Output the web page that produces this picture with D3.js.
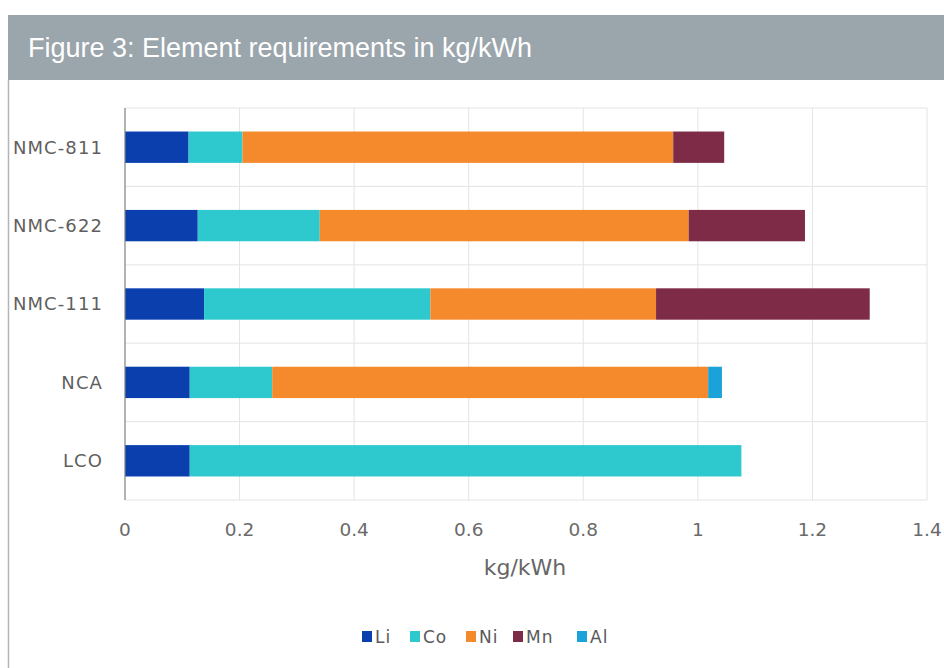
<!DOCTYPE html>
<html>
<head>
<meta charset="utf-8">
<script src="https://cdn.jsdelivr.net/npm/d3@7"></script>
<style>
  html, body { margin: 0; padding: 0; background: #fff; }
  svg { display: block; }
</style>
</head>
<body>
<svg id="chart" width="944" height="668"></svg>
<script>
const title = "Figure 3: Element requirements in kg/kWh";
const categories = ["NMC-811", "NMC-622", "NMC-111", "NCA", "LCO"];
const elements = ["Li", "Co", "Ni", "Mn", "Al"];
const Li = [0.111, 0.127, 0.138, 0.113, 0.113];
const Co = [0.094, 0.213, 0.395, 0.144, 0.963];
const Ni = [0.752, 0.644, 0.394, 0.761, 0];
const Mn = [0.089, 0.203, 0.373, 0, 0];
const Al = [0, 0, 0, 0.024, 0];
const xTicks = [0, 0.2, 0.4, 0.6, 0.8, 1, 1.2, 1.4];
const xTitle = "kg/kWh";
const colors = ["#0b3fae", "#2ec8cf", "#f48a2c", "#7e2b47", "#1ba2d9"];

const seriesValues = { Li, Co, Ni, Mn, Al };
const rows = categories.map((c, i) => {
  const r = { cat: c };
  elements.forEach(e => r[e] = seriesValues[e][i]);
  return r;
});

const svg = d3.select("#chart");
const font = "'DejaVu Sans', sans-serif";

// title bar
svg.append("rect").attr("x", 8).attr("y", 15).attr("width", 936).attr("height", 65).attr("fill", "#9ba5ac");
svg.append("line").attr("x1", 8.5).attr("x2", 8.5).attr("y1", 80).attr("y2", 668).attr("stroke", "#b5b5b5").attr("stroke-width", 1.5);
svg.append("text").attr("x", 28).attr("y", 57).attr("fill", "#ffffff")
  .attr("font-family", "'Liberation Sans', sans-serif").attr("font-size", 27)
  .attr("textLength", 504).attr("lengthAdjust", "spacingAndGlyphs")
  .text(title);

const x0 = 125, x1 = 927, yTop = 108, yBot = 500;
const x = d3.scaleLinear().domain([0, 1.4]).range([x0, x1]);
const y = d3.scaleBand().domain(categories).range([yTop, yBot]).paddingInner(0.6).paddingOuter(0.3);

// gridlines
const g = svg.append("g");
g.selectAll(".vg").data(xTicks.slice(1)).join("line")
  .attr("x1", d => x(d)).attr("x2", d => x(d)).attr("y1", yTop).attr("y2", yBot)
  .attr("stroke", "#e4e4e4").attr("stroke-width", 1);
const step = y.step();
const hLines = d3.range(categories.length + 1).map(i => yTop + i * step);
g.selectAll(".hg").data(hLines).join("line")
  .attr("x1", x0).attr("x2", x1).attr("y1", d => d).attr("y2", d => d)
  .attr("stroke", "#e4e4e4").attr("stroke-width", 1);

// bars
const stack = d3.stack().keys(elements)(rows);
svg.append("g").selectAll("g").data(stack).join("g")
  .attr("fill", (d, i) => colors[i])
  .selectAll("rect").data(d => d).join("rect")
  .attr("x", d => x(d[0])).attr("width", d => Math.max(0, x(d[1]) - x(d[0])))
  .attr("y", d => y(d.data.cat)).attr("height", y.bandwidth());

// y axis line
svg.append("line").attr("x1", x0).attr("x2", x0).attr("y1", yTop).attr("y2", yBot)
  .attr("stroke", "#7f7f7f").attr("stroke-width", 1.2);

// category labels
svg.append("g").selectAll("text").data(categories).join("text")
  .attr("x", 103).attr("y", d => y(d) + y.bandwidth() / 2)
  .attr("dy", "0.36em").attr("text-anchor", "end")
  .attr("font-family", font).attr("font-size", 18).attr("letter-spacing", 1.1)
  .attr("fill", "#5f5f5f").text(d => d);

// x tick labels
svg.append("g").selectAll("text").data(xTicks).join("text")
  .attr("x", d => x(d)).attr("y", 529).attr("dy", "0.36em").attr("text-anchor", "middle")
  .attr("font-family", font).attr("font-size", 18.5)
  .attr("fill", "#6a6a6a").text(d => d3.format("~g")(d));

// x title
svg.append("text").attr("x", 525).attr("y", 567).attr("dy", "0.36em").attr("text-anchor", "middle")
  .attr("font-family", font).attr("font-size", 22).attr("fill", "#666666").text(xTitle);

// legend
const legendX = [362, 410, 466, 513, 577];
const lg = svg.append("g").selectAll("g").data(elements).join("g")
  .attr("transform", (d, i) => `translate(${legendX[i]},637)`);
lg.append("rect").attr("x", 0).attr("y", -6).attr("width", 10).attr("height", 11)
  .attr("fill", (d, i) => colors[i]);
lg.append("text").attr("x", 13).attr("y", 0).attr("dy", "0.36em")
  .attr("font-family", font).attr("font-size", 17).attr("letter-spacing", 1)
  .attr("fill", "#595959").text(d => d);
</script>
</body>
</html>
